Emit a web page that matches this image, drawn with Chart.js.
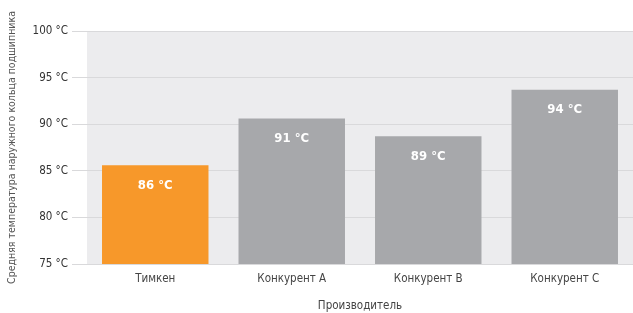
<!DOCTYPE html>
<html>
<head>
<meta charset="utf-8">
<script src="https://cdn.jsdelivr.net/npm/chart.js@4/dist/chart.umd.min.js"></script>
<style>
html,body{margin:0;padding:0;background:#fff;}
#wrap{width:633px;height:313px;position:relative;}
</style>
</head>
<body>
<div id="wrap"><canvas id="c" width="633" height="313"></canvas></div>
<script>
const categories = ['Тимкен', 'Конкурент A', 'Конкурент B', 'Конкурент C'];
const values = [85.6, 90.6, 88.7, 93.7];
const valueLabels = ['86 °C', '91 °C', '89 °C', '94 °C'];
const yTicks = [75, 80, 85, 90, 95, 100];
const barColors = ['#f7982a', '#a7a8ab', '#a7a8ab', '#a7a8ab'];
const yTitle = 'Средняя температура наружного кольца подшипника';
const xTitle = 'Производитель';

const FONT = "'DejaVu Sans Condensed', 'Liberation Sans Narrow', sans-serif";

const bgPlugin = {
  id: 'bg',
  beforeDraw(chart) {
    const a = chart.chartArea, ctx = chart.ctx;
    ctx.save();
    ctx.fillStyle = '#ececee';
    ctx.fillRect(a.left, a.top, a.right - a.left, a.bottom - a.top);
    ctx.restore();
  }
};
const labelPlugin = {
  id: 'vlabels',
  afterDatasetsDraw(chart) {
    const ctx = chart.ctx;
    const meta = chart.getDatasetMeta(0);
    ctx.save();
    ctx.fillStyle = '#ffffff';
    ctx.font = "bold 13px " + FONT;
    ctx.textAlign = 'center';
    ctx.textBaseline = 'middle';
    meta.data.forEach((bar, i) => {
      ctx.fillText(valueLabels[i], bar.x, bar.y + 20);
    });
    ctx.restore();
  }
};

new Chart(document.getElementById('c'), {
  type: 'bar',
  data: {
    labels: categories,
    datasets: [{
      data: values,
      backgroundColor: barColors,
      borderWidth: 0,
      barPercentage: 0.78,
      categoryPercentage: 1.0
    }]
  },
  options: {
    responsive: false,
    animation: false,
    devicePixelRatio: 1,
    layout: { padding: { top: 31, right: 0, bottom: 0, left: 0 } },
    plugins: { legend: { display: false }, tooltip: { enabled: false } },
    scales: {
      x: {
        grid: { display: false, drawTicks: false },
        border: { display: false },
        ticks: { color: '#444', font: { family: FONT, size: 11.5 }, padding: 8 },
        title: { display: true, text: xTitle, color: '#444', font: { family: FONT, size: 11.5 }, padding: { top: 8, bottom: 0 } },
        afterFit(s) { s.height = 49; }
      },
      y: {
        min: 75, max: 100,
        afterBuildTicks(s) { s.ticks = yTicks.map(v => ({ value: v })); },
        grid: { color: '#d9d9db', lineWidth: 1, tickLength: 15, drawTicks: true, tickColor: '#d9d9db' },
        border: { display: false },
        ticks: {
          color: '#333', font: { family: FONT, size: 11.5 }, padding: 4,
          callback: v => v + ' °C'
        },
        title: { display: true, text: yTitle, color: '#555', font: { family: FONT, size: 10.5 }, padding: { top: 6, bottom: 0 } },
        afterFit(s) { s.width = 87; }
      }
    }
  },
  plugins: [bgPlugin, labelPlugin]
});
</script>
</body>
</html>
